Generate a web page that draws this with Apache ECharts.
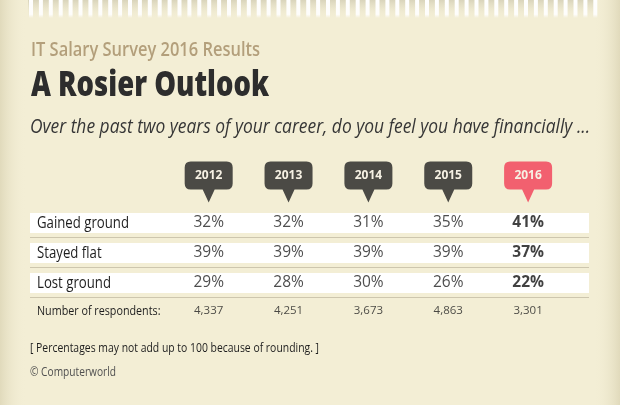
<!DOCTYPE html>
<html><head><meta charset="utf-8">
<script src="https://cdn.jsdelivr.net/npm/echarts@6/dist/echarts.min.js"></script>
<style>html,body{margin:0;padding:0;background:#f3eed5}#c{width:620px;height:405px}</style>
</head><body><div id="c"></div>
<script>
const years = [2012, 2013, 2014, 2015, 2016];
const rows = ['Gained ground', 'Stayed flat', 'Lost ground'];
const gained = [32, 32, 31, 35, 41];
const flat = [39, 39, 39, 39, 37];
const lost = [29, 28, 30, 26, 22];
const respondents = [4337, 4251, 3673, 4863, 3301];
const respLabel = 'Number of respondents:';
const headerCat = 'header';
const yCats = [headerCat, ...rows, respLabel];
const highlightYear = 2016;
const titleText = 'IT Salary Survey 2016 Results';
const headline = 'A Rosier Outlook';
const question = 'Over the past two years of your career, do you feel you have financially ...';
const footnote = '[ Percentages may not add up to 100 because of rounding. ]';
const credit = '© Computerworld';

const FAM = "'Open Sans'";
const F = "'Open Sans',sans-serif";
const xMin = 2009.7625, xMax = 2016.7625;

const mctx = document.createElement('canvas').getContext('2d');
function measure(text, size, weight, style) {
  mctx.font = (style || 'normal') + ' ' + (weight || 'normal') + ' ' + size + 'px ' + FAM;
  return mctx.measureText(text).width;
}
function fitText(text, x, y, width, size, weight, style, color) {
  const s = width / measure(text, size, weight, style);
  return {type:'text', x:x, y:y, scaleX:s, silent:true, z:10,
    style:{text:text, fontFamily:F, fontSize:size, fontWeight:weight || 'normal', fontStyle:style || 'normal',
      fill:color, align:'left', verticalAlign:'middle'}};
}

const rowValues = [gained, flat, lost];
const pctData = [];
rowValues.forEach((arr, r) => arr.forEach((v, i) => {
  const hi = years[i] === highlightYear;
  pctData.push({
    value: [years[i], rows[r], v],
    label: hi ? {fontWeight: 'bold', color: '#111'} : {}
  });
}));

const bubblePath = 'path://M6,0 H42 Q48,0 48,6 V22 Q48,28 42,28 H30 L24,41 L18,28 H6 Q0,28 0,22 V6 Q0,0 6,0 Z';

const graphics = [];
graphics.push({type:'rect', left:0, top:0, shape:{width:26, height:405}, silent:true,
  style:{fill:new echarts.graphic.LinearGradient(0,0,1,0,[{offset:0,color:'rgba(190,180,140,0.35)'},{offset:1,color:'rgba(243,238,213,0)'}])}});
graphics.push({type:'rect', left:594, top:0, shape:{width:26, height:405}, silent:true,
  style:{fill:new echarts.graphic.LinearGradient(0,0,1,0,[{offset:0,color:'rgba(243,238,213,0)'},{offset:1,color:'rgba(190,180,140,0.35)'}])}});
graphics.push({type:'rect', left:28, top:0, shape:{width:568, height:19}, silent:true,
  style:{fill:new echarts.graphic.LinearGradient(0,0,0,1,[{offset:0,color:'rgba(200,195,170,0.6)'},{offset:1,color:'rgba(243,238,213,0)'}])}});
for (let x = 29; x < 594; x += 9.9) {
  graphics.push({type:'rect', left:x, top:0, shape:{width:4, height:18}, silent:true,
    style:{fill:new echarts.graphic.LinearGradient(0,0,0,1,[{offset:0,color:'rgba(255,255,255,1)'},{offset:0.8,color:'rgba(255,255,255,0.9)'},{offset:1,color:'rgba(255,255,255,0)'}])}});
}
graphics.push(fitText(titleText, 31, 51, 229, 19, '600', 'normal', '#b39f7b'));
graphics.push(fitText(headline, 31, 86, 238, 35, '800', 'normal', '#2d2d2d'));
graphics.push(fitText(question, 30, 127, 560, 19.5, 'normal', 'italic', '#363636'));
graphics.push(fitText(footnote, 30, 348, 289, 13, 'normal', 'normal', '#1e1e1e'));
graphics.push(fitText(credit, 30, 373, 86, 12, 'normal', 'normal', '#505050'));

const chart = echarts.init(document.getElementById('c'), null, {renderer:'canvas'});
chart.setOption({
  backgroundColor: '#f3eed5',
  animation: false,
  graphic: graphics,
  grid: {left:30, right:31, top:178, height:150},
  xAxis: {type:'value', min:xMin, max:xMax, show:false},
  yAxis: {type:'category', data:yCats, inverse:true, show:false},
  series: [
    {type:'custom', silent:true, z:1, encode:{x:0, y:1},
      data: rows.concat([respLabel]).map(r => [xMin, r]),
      renderItem: (params, api) => {
        const name = yCats[api.value(1)] !== undefined && typeof api.value(1) === 'number' ? yCats[api.value(1)] : api.value(1);
        const c = api.coord([api.value(0), api.value(1)]);
        const h = api.size([0, 1])[1];
        const cs = params.coordSys;
        const isResp = name === respLabel;
        const children = [];
        if (!isResp) {
          children.push({type:'rect', shape:{x:cs.x, y:c[1] - h/3, width:cs.width, height:h*2/3}, style:{fill:'#ffffff'}});
          children.push({type:'rect', shape:{x:cs.x, y:Math.round(c[1] + h*14/30), width:cs.width, height:1}, style:{fill:'#cdc6ae'}});
        }
        children.push({type:'text', x:cs.x + 7, y:c[1] + (isResp ? -2 : 0), scaleX: isResp ? 0.86 : 0.8,
          style:{text:name, fontFamily:F, fontSize: isResp ? 12.5 : 16.5, fill:'#1e1e1e', align:'left', verticalAlign:'middle'}});
        return {type:'group', children:children};
      }},
    {type:'scatter', z:3, clip:false, silent:true,
      data: years.map(y => ({value:[y, headerCat], itemStyle:{color: y === highlightYear ? '#f2606f' : '#4b4a45', opacity:1}})),
      symbol: bubblePath, symbolSize:[48,41], symbolOffset:[0,-11], symbolKeepAspect:false,
      label:{show:true, position:'inside', offset:[0,-6], formatter: p => String(p.value[0]),
        color:'#f6f1e4', fontFamily:F, fontWeight:'bold', fontSize:12}},
    {type:'scatter', z:3, clip:false, silent:true, symbolSize:1, itemStyle:{color:'rgba(0,0,0,0)'},
      data: pctData,
      label:{show:true, position:'inside', formatter: p => p.value[2] + '%', fontFamily:F, fontSize:15.5, color:'#222'}},
    {type:'scatter', z:3, clip:false, silent:true, symbolSize:1, itemStyle:{color:'rgba(0,0,0,0)'},
      data: years.map((y, i) => [y, respLabel, respondents[i]]),
      label:{show:true, position:'inside', offset:[0,-2], formatter: p => p.value[2].toLocaleString('en-US'), fontFamily:F, fontSize:11.5, color:'#1e1e1e'}}
  ]
});
</script></body></html>
